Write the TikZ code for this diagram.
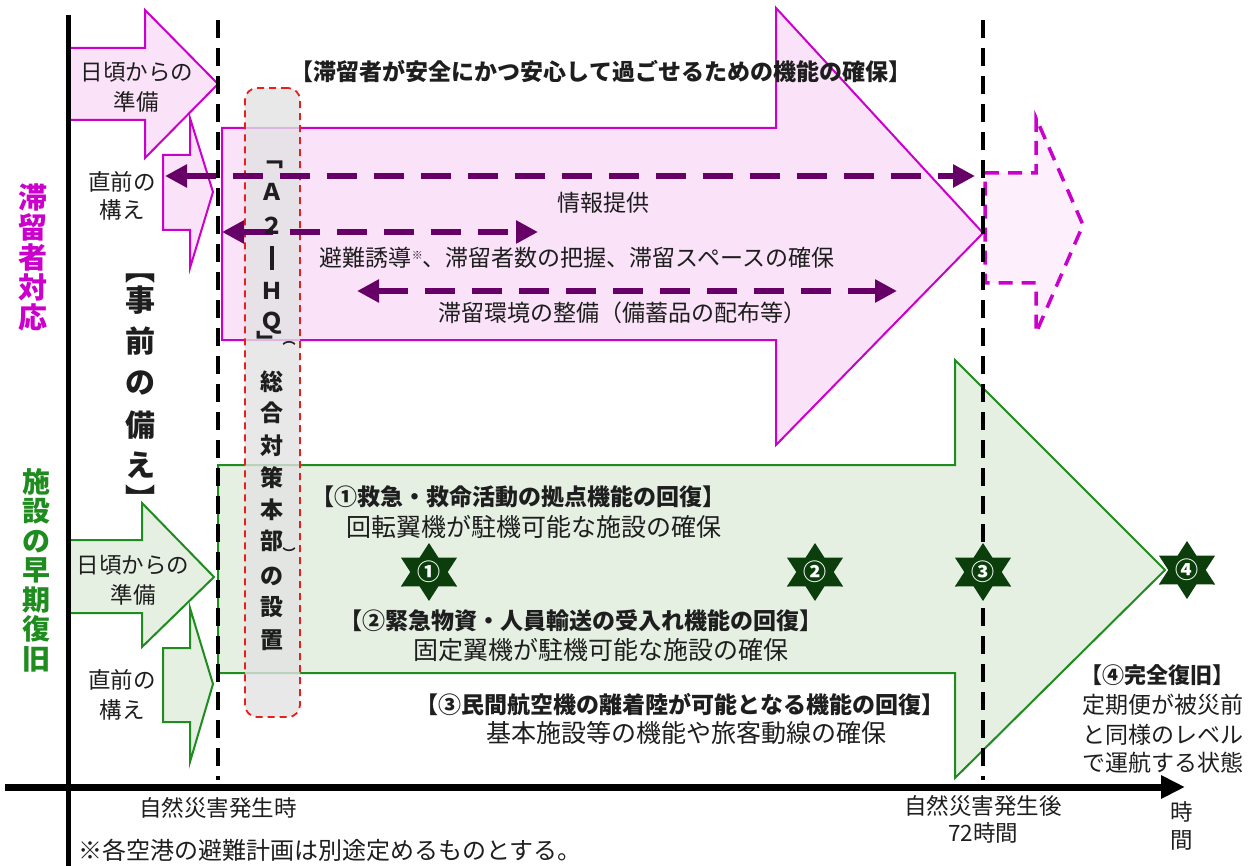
\documentclass[tikz,border=0pt]{standalone}
\usepackage{fontspec}
\setmainfont{Noto Sans CJK JP}
\usetikzlibrary{arrows.meta}
\definecolor{mag}{RGB}{204,0,204}
\definecolor{pinkfill}{RGB}{250,226,248}
\definecolor{pinklight}{RGB}{253,239,252}
\definecolor{grn}{RGB}{30,140,30}
\definecolor{grnfill}{RGB}{229,240,227}
\definecolor{purp}{RGB}{102,0,102}
\definecolor{stargrn}{RGB}{12,62,12}
\definecolor{redd}{RGB}{235,30,30}
\definecolor{txtc}{RGB}{30,30,30}
\newcommand\fsz[1]{\fontsize{#1}{#1}\selectfont}
\begin{document}
\begin{tikzpicture}[x=1pt,y=-1pt,
  pinkarrow/.style={draw=mag,fill=pinkfill,line width=2pt,line join=miter},
  greenarrow/.style={draw=grn,fill=grnfill,line width=2pt,line join=miter},
  timedash/.style={draw=black,line width=4.5pt,dash pattern=on 18pt off 10pt},
  purparrow/.style={draw=purp,line width=6pt,dash pattern=on 30pt off 17pt,
     {Triangle[length=22pt,width=22pt]}-{Triangle[length=22pt,width=22pt]}},
  body/.style={text=txtc,font=\fsz{23},inner sep=0pt},
  head/.style={text=txtc,font=\bfseries\fsz{23},inner sep=0pt},
  sub/.style={text=txtc,font=\fsz{25},inner sep=0pt},
  small/.style={text=txtc,font=\fsz{22.5},inner sep=0pt},
  vchar/.style={text=txtc,font=\bfseries\fsz{23},inner sep=0pt},
  vparen/.style={text=txtc,font=\bfseries\fsz{13},inner sep=0pt},
  jchar/.style={text=txtc,font=\bfseries\fsz{30},inner sep=0pt},
]
\useasboundingbox (0,0) rectangle (1257,866);
\fill[white] (0,0) rectangle (1257,866);

% ---- pink (滞留者対応) arrows
\draw[pinkarrow] (222,128) -- (776,128) -- (776,8) -- (983,233) -- (776,445) -- (776,340) -- (222,340) -- cycle;
\draw[draw=mag,fill=pinklight,line width=3.5pt,dash pattern=on 14pt off 9pt]
  (985,173) -- (1036,173) -- (1036,118) -- (1083,225) -- (1036,333) -- (1036,283) -- (985,283) -- cycle;
\draw[pinkarrow] (163,155) -- (190,155) -- (190,118) -- (213,192) -- (190,268) -- (190,230) -- (163,230) -- cycle;
\draw[pinkarrow] (68,48) -- (145,48) -- (145,10) -- (218,84) -- (145,158) -- (145,120) -- (68,120) -- cycle;

% ---- green (施設の早期復旧) arrows
\draw[greenarrow] (218,465) -- (955,465) -- (955,360) -- (1165,570) -- (955,778) -- (955,673) -- (218,673) -- cycle;
\draw[greenarrow] (163,648) -- (190,648) -- (190,608) -- (213,684) -- (190,762) -- (190,722) -- (163,722) -- cycle;
\draw[greenarrow] (68,540) -- (142,540) -- (142,503) -- (214,577) -- (142,647) -- (142,613) -- (68,613) -- cycle;

% ---- A2-HQ box
\node[draw=redd,line width=1.8pt,dash pattern=on 7pt off 5pt,rounded corners=12pt,
      fill=gray!22,fill opacity=0.8,minimum width=55pt,minimum height=629pt,inner sep=0pt]
      (hq) at (272.5,402.5) {};

% ---- purple dashed arrows
\coordinate (p1a) at (165,176); \coordinate (p1b) at (975,176);
\coordinate (p2a) at (222,232); \coordinate (p2b) at (538,232);
\coordinate (p3a) at (357,291); \coordinate (p3b) at (897,291);
\draw[purparrow] (p1a) -- (p1b);
\draw[purparrow] (p2a) -- (p2b);
\draw[purparrow] (p3a) -- (p3b);

% ---- time lines
\coordinate (d1t) at (218,20); \coordinate (d1b) at (218,780);
\coordinate (d2t) at (983,20); \coordinate (d2b) at (983,780);
\draw[timedash] (d1t) -- (d1b);
\draw[timedash] (d2t) -- (d2b);
\coordinate (vt) at (68,15); \coordinate (vb) at (68,866);
\draw[line width=5pt] (vt) -- (vb);
\coordinate (ha) at (5,787); \coordinate (hb) at (1185,787);
\draw[line width=7pt,-{Triangle[length=24pt,width=22pt]}] (ha) -- (hb);

% ---- vertical text in HQ box
\foreach \c/\yy/\k in {﹁/165/1,Ａ/192/2,２/226/3,Ｈ/291/5,Ｑ/323/6,総/382/9,合/413/10,対/446/11,策/478/12,本/510/13,部/541/14,の/576/16,設/607/17,置/640/18}
  \node[vchar] (hq\k) at (272,\yy) {\c};
\node[inner sep=0pt,text=txtc] (hq4) at (272,258) {\rule{3.5pt}{24pt}};
\node[vchar] (hq7) at (268,341) {﹂};
\node[vparen] (hq8) at (289,343) {︵};
\node[vparen] (hq15) at (289,553) {︶};

% ---- left labels
\node[text=mag,font=\bfseries\fontsize{29}{30}\selectfont,align=center,inner sep=0pt] (lab1) at (33,257) {滞\\留\\者\\対\\応};
\node[text=grn,font=\bfseries\fontsize{28}{29.5}\selectfont,align=center,inner sep=0pt] (lab2) at (37,570) {施\\設\\の\\早\\期\\復\\旧};
\foreach \c/\yy/\k in {︻/279/1,事/300/2,前/341/3,の/383/4,備/425/5,え/465/6,︼/498/7}
  \node[jchar] (jz\k) at (140,\yy) {\c};

% ---- small arrow texts
\node[small] (t1) at (137,72) {日頃からの};
\node[small] (t2) at (136,102) {準備};
\node[small] (t3) at (122,182) {直前の};
\node[small] (t4) at (122,210) {構え};
\node[small] (t5) at (133,565) {日頃からの};
\node[small] (t6) at (133,595) {準備};
\node[small] (t7) at (122,680) {直前の};
\node[small] (t8) at (122,710) {構え};

% ---- pink area texts
\node[head] (h0) at (601,72) {【滞留者が安全にかつ安心して過ごせるための機能の確保】};
\node[body] (b1) at (603,203) {情報提供};
\node[body] (b2) at (577,258) {避難誘導\raisebox{7pt}{\fsz{11}※}、滞留者数の把握、滞留スペースの確保};
\node[body] (b3) at (622,313) {滞留環境の整備（備蓄品の配布等）};

% ---- green area texts
\node[head] (g1) at (518,497) {【①救急・救命活動の拠点機能の回復】};
\node[sub] (g1s) at (534,527) {回転翼機が駐機可能な施設の確保};
\node[head] (g2) at (581,621) {【②緊急物資・人員輸送の受入れ機能の回復】};
\node[sub] (g2s) at (601,650) {固定翼機が駐機可能な施設の確保};
\node[head] (g3) at (680,705) {【③民間航空機の離着陸が可能となる機能の回復】};
\node[sub] (g3s) at (686,733) {基本施設等の機能や旅客動線の確保};

% ---- stars
\foreach \s/\sx/\sy/\k in {①/429/572/1,②/815/572/2,③/983/572/3,④/1187/570/4}{
  \fill[stargrn,shift={(\sx,\sy)},xscale=1.12]
    (90:29) -- (120:16.7) -- (150:29) -- (180:16.7) -- (210:29) -- (240:16.7) --
    (270:29) -- (300:16.7) -- (330:29) -- (0:16.7) -- (30:29) -- (60:16.7) -- cycle;
  \node[text=white,font=\bfseries\fsz{23},inner sep=0pt] (star\k) at (\sx,\sy) {\s};
}

% ---- full recovery text
\node[head,anchor=west,font=\bfseries\fsz{22}] (f0) at (1080,675) {【④完全復旧】};
\node[body,anchor=west] (f1) at (1082,705) {定期便が被災前};
\node[body,anchor=west] (f2) at (1082,735) {と同様のレベル};
\node[body,anchor=west] (f3) at (1082,763) {で運航する状態};

% ---- axis labels
\node[small] (x1) at (218,808) {自然災害発生時};
\node[small] (x2) at (983,806) {自然災害発生後};
\node[small] (x3) at (983,833) {72時間};
\node[small] (x4) at (1182,812) {時};
\node[small] (x5) at (1182,840) {間};
\node[small,anchor=west,font=\fsz{24}] (note) at (78,850) {※各空港の避難計画は別途定めるものとする。};
\end{tikzpicture}
\end{document}
